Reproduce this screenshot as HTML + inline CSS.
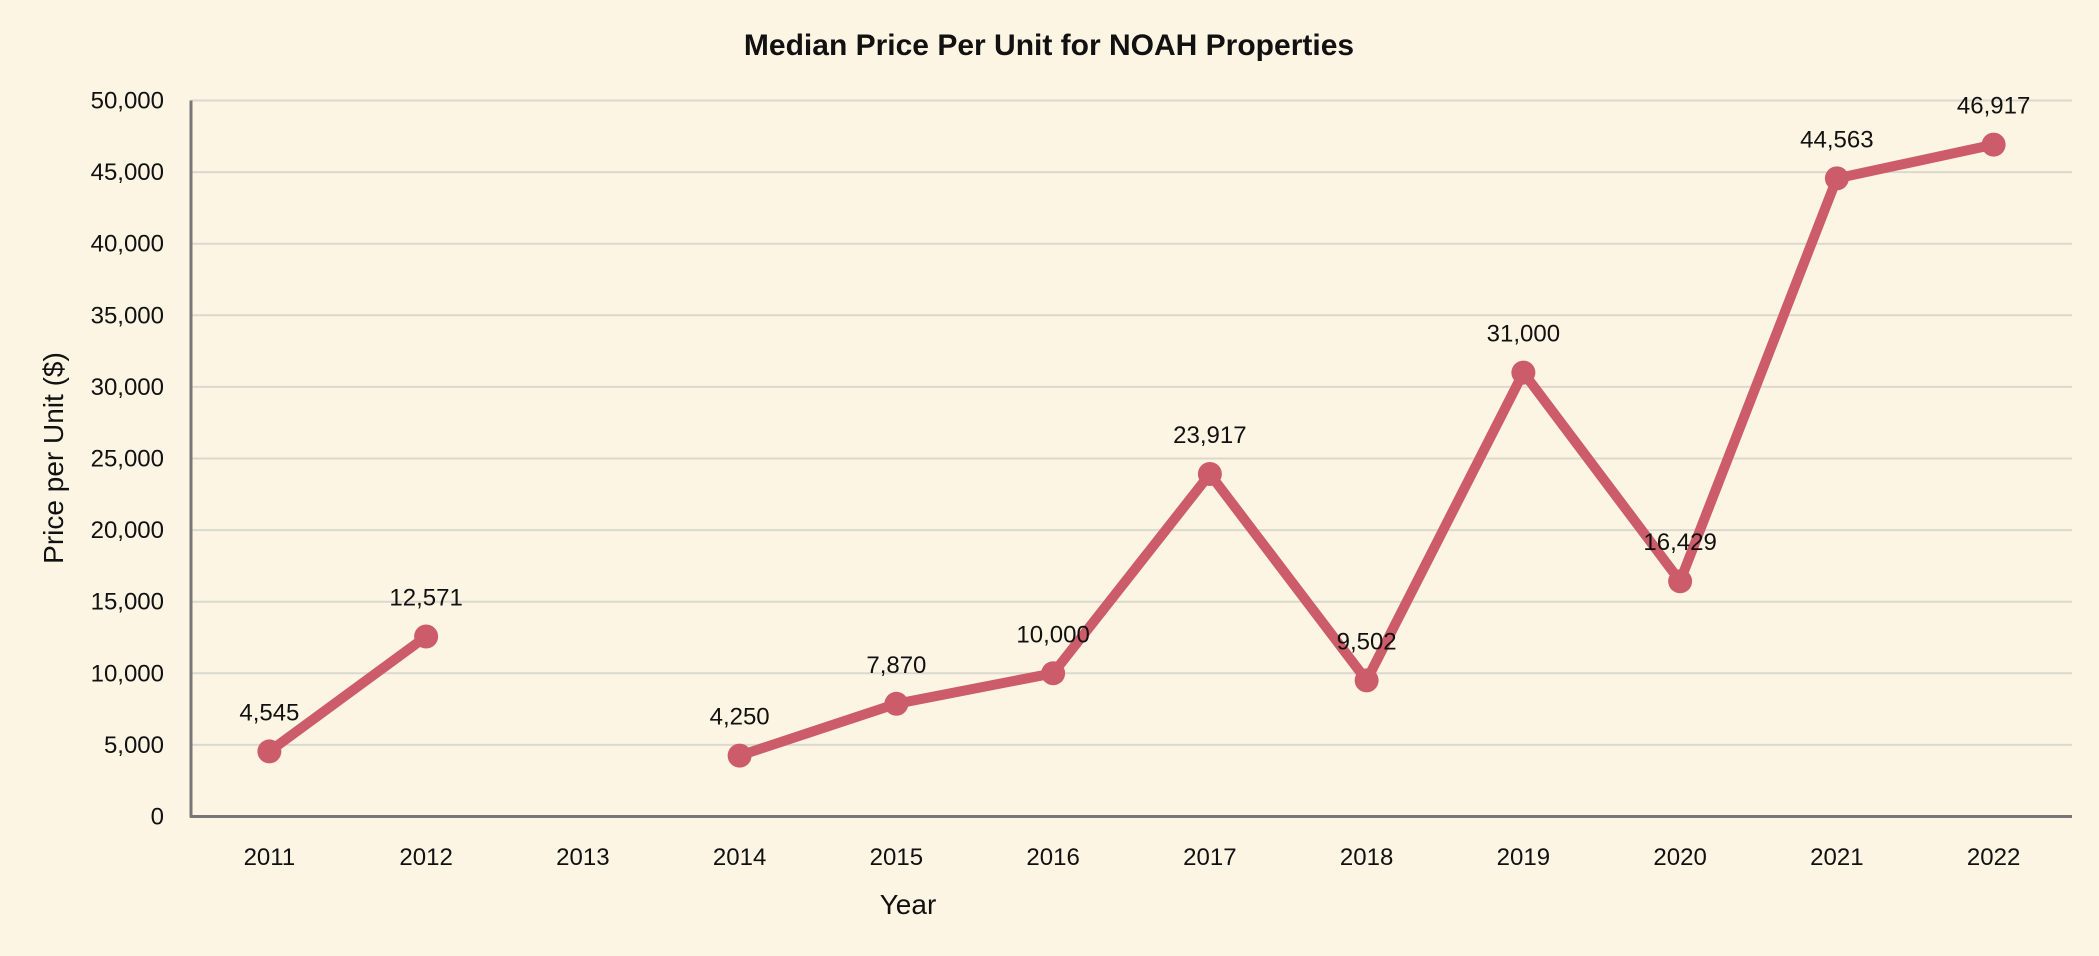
<!DOCTYPE html>
<html><head><meta charset="utf-8"><style>
html,body{margin:0;padding:0;background:#fdf5e4;}
svg{display:block;font-family:"Liberation Sans",sans-serif;}
</style></head><body>
<svg id="chart" width="2099" height="956">
<rect width="2099" height="956" fill="#fdf5e4"/>
<text x="1049" y="55" text-anchor="middle" font-size="30" font-weight="bold" fill="#111">Median Price Per Unit for NOAH Properties</text>
<g id="grid"></g><g id="yticks"></g><g id="xticks"></g><g id="series"></g><g id="labels"></g>
<text x="908" y="914" text-anchor="middle" font-size="28" fill="#111">Year</text>
<text transform="translate(63,458) rotate(-90)" text-anchor="middle" font-size="28" fill="#111">Price per Unit ($)</text>
</svg>
<script>
const categories = ["2011","2012","2013","2014","2015","2016","2017","2018","2019","2020","2021","2022"];
const values = [4545,12571,null,4250,7870,10000,23917,9502,31000,16429,44563,46917];
const valueLabels = ["4,545","12,571","","4,250","7,870","10,000","23,917","9,502","31,000","16,429","44,563","46,917"];
const yTicks = [0,5000,10000,15000,20000,25000,30000,35000,40000,45000,50000];
const yTickLabels = ["0","5,000","10,000","15,000","20,000","25,000","30,000","35,000","40,000","45,000","50,000"];

const NS="http://www.w3.org/2000/svg";
const L=191,R=2072,T=100.5,B=816.5;
const x=i=>L+(R-L)/categories.length*(i+0.5);
const y=v=>B-(B-T)*v/50000;
function mk(tag,attrs,parent){const e=document.createElementNS(NS,tag);for(const k in attrs)e.setAttribute(k,attrs[k]);document.getElementById(parent).appendChild(e);return e;}
yTicks.forEach((t,i)=>{
  if(t>0){const g=mk('line',{x1:L,x2:R,y1:y(t),y2:y(t),stroke:'#dcd8d0','stroke-width':2},'grid');
  
  }
  const tx=mk('text',{x:164,y:y(t)+8,'text-anchor':'end','font-size':24,fill:'#111'},'yticks');
  tx.textContent=yTickLabels[i];
  
  
});
const ax=mk('line',{x1:L,x2:L,y1:T,y2:B+1,stroke:'#777','stroke-width':3},'grid');


const bx=mk('line',{x1:L-1,x2:R,y1:B,y2:B,stroke:'#777','stroke-width':3},'grid');


categories.forEach((c,i)=>{
  const tx=mk('text',{x:x(i),y:865,'text-anchor':'middle','font-size':24,fill:'#111'},'xticks');
  tx.textContent=c;
  
  
});
let segs=[],cur=[];
values.forEach((v,i)=>{if(v==null){if(cur.length)segs.push(cur);cur=[];}else cur.push([x(i),y(v)]);});
if(cur.length)segs.push(cur);
segs.forEach(s=>{
  const p=mk('polyline',{points:s.map(q=>q.join(',')).join(' '),fill:'none',stroke:'#cd5c6b','stroke-width':10,'stroke-linejoin':'round','stroke-linecap':'round'},'series');
  
  
});
values.forEach((v,i)=>{
  if(v==null)return;
  const c=mk('circle',{cx:x(i),cy:y(v),r:12,fill:'#cd5c6b'},'series');
  
  
  const t=mk('text',{x:x(i),y:y(v)-31,'text-anchor':'middle','font-size':24,fill:'#111'},'labels');
  t.textContent=valueLabels[i];
  
  
});
</script>
</body></html>
